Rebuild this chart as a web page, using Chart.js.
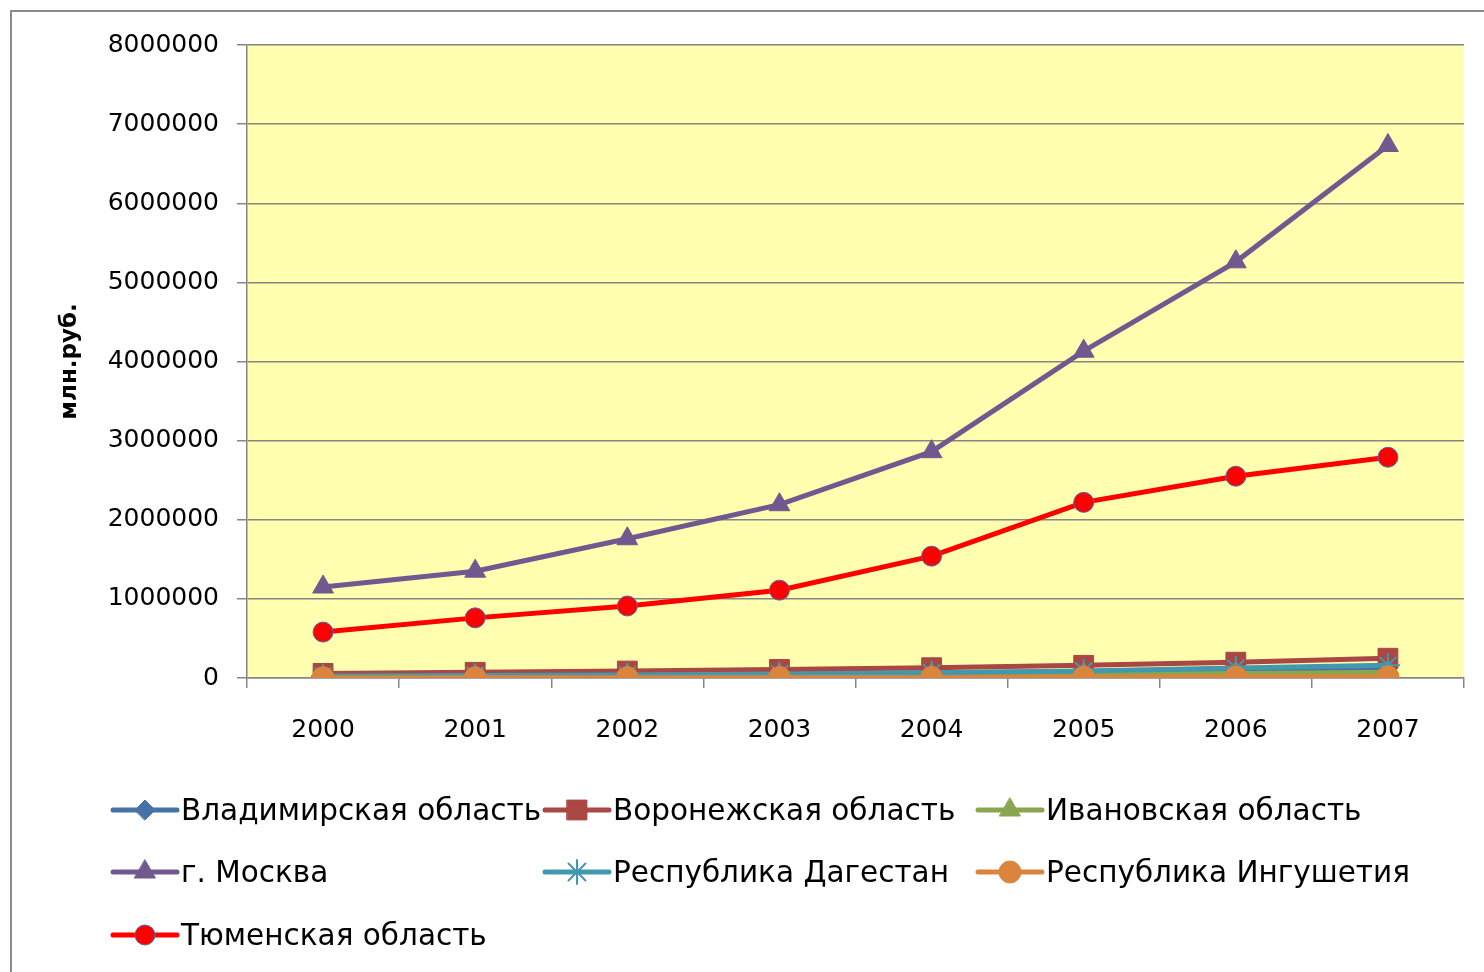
<!DOCTYPE html>
<html><head><meta charset="utf-8">
<script src="https://cdn.jsdelivr.net/npm/chart.js@4"></script>
<style>
html,body{margin:0;padding:0;background:#fff;overflow:hidden;}
#frame{position:absolute;left:10px;top:10px;width:1500px;height:1000px;border:2px solid #8c8c8c;box-sizing:border-box;}
#wrap{position:absolute;left:0;top:0;width:1484px;height:972px;}
</style></head>
<body>
<div id="frame"></div>
<div id="wrap"><canvas id="c" width="1484" height="972"></canvas></div>
<script>
const years = ['2000','2001','2002','2003','2004','2005','2006','2007'];
const yTicks = [0,1000000,2000000,3000000,4000000,5000000,6000000,7000000,8000000];
const vladimir   = [30000, 38000, 46000, 56000, 67000, 82000, 102000, 126000];
const voronezh   = [58000, 72000, 88000, 108000, 130000, 160000, 200000, 250000];
const ivanovo    = [16000, 21000, 26000, 31000, 37000, 46000, 57000, 72000];
const moscow     = [1150000, 1350000, 1760000, 2190000, 2860000, 4130000, 5260000, 6730000];
const dagestan   = [24000, 31000, 38000, 51000, 66000, 89000, 125000, 160000];
const ingushetia = [3000, 3500, 4500, 5500, 7000, 9000, 12000, 16000];
const tyumen     = [580000, 760000, 910000, 1110000, 1540000, 2220000, 2550000, 2790000];
const seriesNames = ['Владимирская область','Воронежская область','Ивановская область','г. Москва','Республика Дагестан','Республика Ингушетия','Тюменская область'];
const yTitle = 'млн.руб.';

const FONT = 'DejaVu Sans';
const styles = [
  {c:'#4572A7', p:'rectRot', r:10, bc:'#4572A7'},
  {c:'#AA4643', p:'rect', r:14, bc:'#AA4643'},
  {c:'#89A54E', p:'triangle', r:12, bc:'#89A54E'},
  {c:'#71588F', p:'triangle', r:12, bc:'#71588F'},
  {c:'#4198AF', p:'star', r:12, bc:'#4198AF'},
  {c:'#DB843D', p:'circle', r:11, bc:'#DB843D'},
  {c:'#FF0000', p:'circle', r:10, bc:'#4F6BA8'}
];
const allData = [vladimir, voronezh, ivanovo, moscow, dagestan, ingushetia, tyumen];
const datasets = allData.map((d,i)=>({
  label: seriesNames[i],
  data: d,
  borderColor: styles[i].c,
  backgroundColor: styles[i].c,
  borderWidth: 5,
  pointStyle: styles[i].p,
  pointRadius: styles[i].r,
  pointBackgroundColor: styles[i].c,
  pointBorderColor: styles[i].bc,
  pointBorderWidth: styles[i].p==='star' ? 2 : 1,
  tension: 0,
  order: 10 - i
}));

const bgPlugin = {
  id:'bg',
  beforeDraw(chart){
    const {ctx, chartArea:a} = chart;
    ctx.save();
    ctx.fillStyle = '#FFFFAF';
    ctx.fillRect(a.left, a.top, a.right-a.left, a.bottom-a.top);
    ctx.restore();
  }
};
const legendPlugin = {
  id:'gridLegend',
  afterDraw(chart){
    const ctx = chart.ctx;
    const cols = [113, 545, 978];
    const rows = [810, 872, 935];
    ctx.save();
    chart.data.datasets.forEach((ds,i)=>{
      const x = cols[i%3], y = rows[Math.floor(i/3)];
      ctx.strokeStyle = ds.borderColor;
      ctx.lineWidth = 5;
      ctx.lineCap = 'round';
      ctx.beginPath(); ctx.moveTo(x, y); ctx.lineTo(x+64, y); ctx.stroke();
      ctx.fillStyle = ds.pointBackgroundColor;
      ctx.strokeStyle = ds.pointBorderColor;
      ctx.lineWidth = ds.pointBorderWidth;
      Chart.helpers.drawPoint(ctx, {pointStyle: ds.pointStyle, radius: ds.pointRadius, rotation: 0, borderWidth: ds.pointBorderWidth}, x+32, y);
      ctx.fillStyle = '#000';
      ctx.font = '29.5px "' + FONT + '"';
      ctx.textBaseline = 'middle';
      ctx.textAlign = 'left';
      ctx.fillText(ds.label, x+68, y+2);
    });
    ctx.restore();
  }
};

new Chart(document.getElementById('c'), {
  type:'line',
  data:{labels: years, datasets},
  options:{
    responsive:false,
    animation:false,
    devicePixelRatio:1,
    layout:{padding:{left:0, top:45, right:20, bottom:234}},
    plugins:{legend:{display:false}, tooltip:{enabled:false}},
    scales:{
      x:{
        offset:true,
        grid:{offset:true, drawOnChartArea:false, color:'#868686', tickLength:10, lineWidth:1.5},
        border:{color:'#868686', width:1.5},
        ticks:{color:'#000', font:{family:FONT, size:25}, padding:27, maxRotation:0},
        afterFit(s){ s.height = 60; }
      },
      y:{
        min:0, max:8000000,
        afterBuildTicks(s){ s.ticks = yTicks.map(v=>({value:v})); },
        grid:{color:'#868686', tickLength:10, lineWidth:1.5},
        border:{color:'#868686', width:1.5},
        ticks:{color:'#000', font:{family:FONT, size:25}, padding:18, callback:v=>String(v)},
        title:{display:true, text:yTitle, color:'#000', font:{family:FONT, size:23, weight:'bold'}, padding:{top:56, bottom:0}},
        afterFit(s){ s.width = 247; }
      }
    }
  },
  plugins:[bgPlugin, legendPlugin]
});
</script>
</body></html>
